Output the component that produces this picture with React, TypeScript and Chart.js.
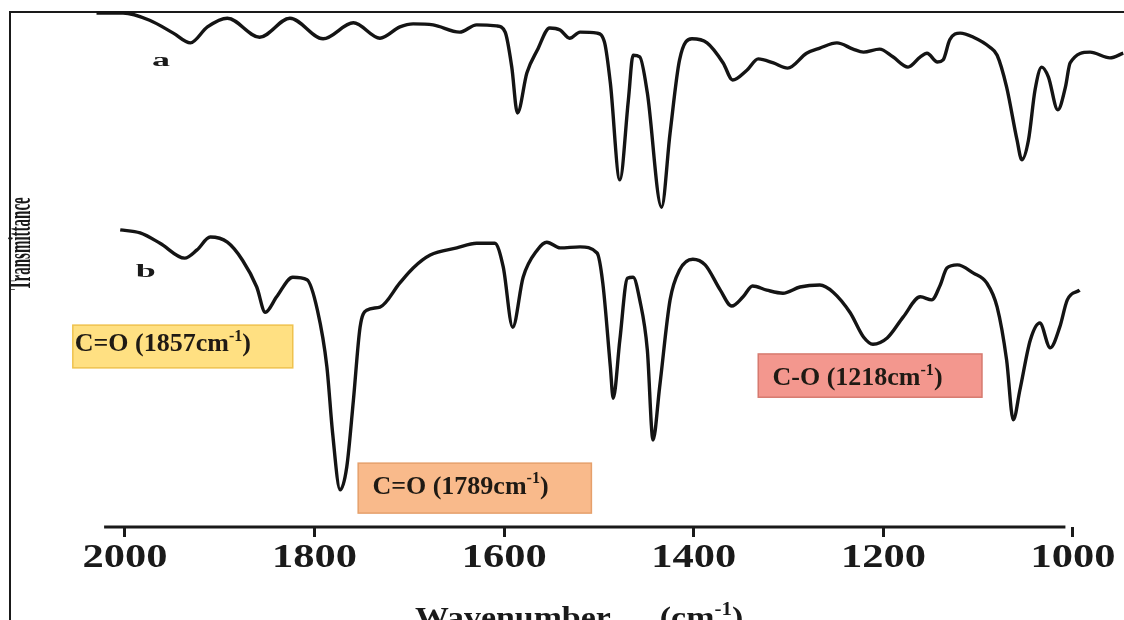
import { useEffect, useRef } from "react";
import { Chart, registerables } from "chart.js";

Chart.register(...registerables);

const SERIF = '"Liberation Serif", "Times New Roman", "DejaVu Serif", serif';

// ---- spectrum a ----
const wavenumberA = [2030, 2002, 1974, 1949, 1931, 1913, 1892, 1858, 1826, 1791, 1759, 1731, 1710, 1696, 1675, 1647, 1629, 1608, 1599, 1592, 1586, 1576, 1565, 1552, 1541, 1531, 1520, 1502, 1494, 1488, 1478, 1469, 1464, 1457, 1449, 1434, 1425, 1415, 1402, 1386, 1369, 1359, 1344, 1332, 1316, 1301, 1281, 1267, 1249, 1232, 1221, 1204, 1190, 1174, 1161, 1154, 1143, 1137, 1130, 1119, 1105, 1088, 1080, 1070, 1059, 1054, 1047, 1040, 1033, 1026, 1016, 1008, 1003, 982, 961, 947];
const transmittanceA = [99.8, 99.8, 98.4, 95.9, 94.0, 97.1, 98.8, 95.1, 98.8, 94.8, 97.9, 94.9, 97.1, 97.7, 97.5, 96.1, 97.5, 97.3, 96.1, 89.3, 80.4, 88.2, 92.6, 96.9, 96.5, 94.9, 96.1, 95.9, 94.0, 86.2, 67.4, 82.9, 91.6, 91.3, 84.3, 62.1, 76.5, 90.7, 94.8, 94.0, 90.1, 86.8, 88.7, 90.9, 90.1, 89.1, 92.0, 93.0, 94.0, 92.8, 92.2, 92.8, 91.3, 89.3, 91.3, 92.0, 90.3, 90.7, 94.6, 95.9, 95.1, 93.2, 91.6, 85.4, 75.1, 71.3, 75.1, 84.9, 89.3, 87.4, 81.0, 85.4, 90.1, 92.2, 91.1, 92.0];

// ---- spectrum b ----
const wavenumberB = [2005, 1984, 1963, 1937, 1924, 1910, 1892, 1876, 1861, 1852, 1840, 1823, 1808, 1797, 1787, 1781, 1773, 1766, 1759, 1752, 1745, 1731, 1710, 1696, 1678, 1650, 1629, 1610, 1601, 1591, 1580, 1565, 1555, 1541, 1520, 1502, 1496, 1488, 1485, 1478, 1470, 1464, 1457, 1449, 1443, 1436, 1425, 1415, 1401, 1388, 1372, 1360, 1348, 1338, 1323, 1306, 1288, 1267, 1253, 1235, 1221, 1211, 1196, 1179, 1161, 1149, 1140, 1133, 1122, 1105, 1091, 1080, 1070, 1063, 1056, 1045, 1035, 1024, 1014, 1006, 993];
const transmittanceB = [57.7, 57.1, 55.1, 52.2, 53.8, 56.3, 55.3, 51.8, 46.6, 41.7, 44.7, 48.5, 48.0, 42.1, 31.1, 18.3, 7.2, 11.7, 24.7, 38.8, 42.1, 42.7, 47.4, 50.3, 52.8, 54.2, 55.1, 55.1, 50.5, 38.8, 48.5, 53.8, 55.3, 54.2, 54.4, 53.2, 47.4, 31.1, 25.0, 36.3, 48.3, 48.5, 44.1, 34.4, 16.9, 27.2, 44.1, 49.9, 52.0, 50.9, 46.0, 42.9, 44.7, 46.8, 46.0, 45.4, 46.6, 47.0, 45.6, 41.6, 36.9, 35.5, 36.7, 40.8, 44.7, 44.1, 47.0, 50.3, 50.9, 49.3, 47.4, 42.7, 32.4, 20.8, 26.6, 36.3, 39.6, 34.8, 38.8, 44.1, 46.0];

// ---- axis ----
const tickValues = [2000, 1800, 1600, 1400, 1200, 1000];
const tickLabels = ["2000", "1800", "1600", "1400", "1200", "1000"];
const xTitle = "Wavenumber";
const xUnit = "(cm";
const unitSup = "-1";
const yTitle = "Transmittance";

// ---- curve names ----
const seriesNames = ["a", "b"];
const seriesNameX = [1962, 1978];
const seriesNameY = [90.5, 49.5];

// ---- annotations ----
const annotationTexts = ["C=O (1857cm", "C=O (1789cm", "C-O (1218cm"];
const annotationFills = ["#FFE082", "#F9BA8B", "#F3978E"];
const annotationBorders = ["#EFC24E", "#E6A06B", "#D67A6F"];
// box extents (wavenumber / transmittance units)
const annotationX0 = [2055, 1754, 1332];
const annotationX1 = [1823, 1508, 1096];
const annotationYTop = [39.2, 12.4, 33.6];
const annotationYBottom = [30.9, 2.7, 25.2];
const annotationTextX = [2053, 1739, 1317];
const annotationTextY = [34.1, 6.5, 27.5];

type Seg = { t: string; sup?: boolean; gap?: number };

function fnt(size: number) {
  return `bold ${size}px ${SERIF}`;
}

function drawSegs(
  ctx: CanvasRenderingContext2D,
  segs: Seg[],
  x: number,
  baseline: number,
  size: number,
  sx: number,
  align: "left" | "center"
) {
  ctx.save();
  ctx.textBaseline = "alphabetic";
  ctx.textAlign = "left";
  let total = 0;
  for (const s of segs) {
    if (s.gap) {
      total += s.gap / sx;
      continue;
    }
    ctx.font = fnt(s.sup ? size * 0.62 : size);
    total += ctx.measureText(s.t).width;
  }
  ctx.translate(x, baseline);
  ctx.scale(sx, 1);
  let cx = align === "center" ? -total / 2 : 0;
  for (const s of segs) {
    if (s.gap) {
      cx += s.gap / sx;
      continue;
    }
    ctx.font = fnt(s.sup ? size * 0.62 : size);
    ctx.fillText(s.t, cx, s.sup ? -size * 0.4 : 0);
    cx += ctx.measureText(s.t).width;
  }
  ctx.restore();
}

const decorPlugin = {
  id: "decor",
  beforeDraw(chart: any) {
    const ctx: CanvasRenderingContext2D = chart.ctx;
    ctx.save();
    ctx.fillStyle = "#ffffff";
    ctx.fillRect(0, 0, chart.width, chart.height);
    // frame
    ctx.strokeStyle = "#1a1a1a";
    ctx.lineWidth = 2;
    ctx.beginPath();
    ctx.moveTo(10, chart.height);
    ctx.lineTo(10, 12);
    ctx.lineTo(chart.width, 12);
    ctx.stroke();
    ctx.restore();
  },
  afterDraw(chart: any) {
    const ctx: CanvasRenderingContext2D = chart.ctx;
    const xs = chart.scales.x;
    const ys = chart.scales.y;
    ctx.save();
    ctx.fillStyle = "#1a1a1a";

    // axis line
    ctx.strokeStyle = "#1a1a1a";
    ctx.lineWidth = 3;
    ctx.beginPath();
    ctx.moveTo(xs.getPixelForValue(2022), xs.top);
    ctx.lineTo(xs.getPixelForValue(1008), xs.top);
    ctx.stroke();

    // tick labels
    for (const t of xs.ticks) {
      const i = tickValues.indexOf(t.value);
      if (i < 0) continue;
      drawSegs(ctx, [{ t: tickLabels[i] }], xs.getPixelForValue(t.value), xs.top + 39.5, 34, 1.25, "center");
    }

    // x title
    drawSegs(
      ctx,
      [{ t: xTitle }, { t: "", gap: 49 }, { t: xUnit }, { t: unitSup, sup: true }, { t: ")" }],
      xs.getPixelForValue(1521),
      xs.top + 100,
      30,
      1.13,
      "center"
    );

    // y title (rotated, condensed)
    ctx.save();
    ctx.translate(22, ys.getPixelForValue(55));
    ctx.scale(2.1, 1);
    ctx.rotate(-Math.PI / 2);
    ctx.font = fnt(15);
    ctx.textAlign = "center";
    ctx.textBaseline = "middle";
    ctx.fillText(yTitle, 0, 0);
    ctx.restore();

    // series names
    for (let i = 0; i < seriesNames.length; i++) {
      drawSegs(
        ctx,
        [{ t: seriesNames[i] }],
        xs.getPixelForValue(seriesNameX[i]),
        ys.getPixelForValue(seriesNameY[i]) + 5,
        18,
        2.0,
        "center"
      );
    }

    // annotation boxes
    for (let i = 0; i < annotationTexts.length; i++) {
      const x0 = xs.getPixelForValue(annotationX0[i]);
      const x1 = xs.getPixelForValue(annotationX1[i]);
      const y0 = ys.getPixelForValue(annotationYTop[i]);
      const y1 = ys.getPixelForValue(annotationYBottom[i]);
      ctx.fillStyle = annotationFills[i];
      ctx.fillRect(x0, y0, x1 - x0, y1 - y0);
      ctx.strokeStyle = annotationBorders[i];
      ctx.lineWidth = 1.5;
      ctx.strokeRect(x0, y0, x1 - x0, y1 - y0);
      ctx.fillStyle = "#1f1a14";
      drawSegs(
        ctx,
        [{ t: annotationTexts[i] }, { t: unitSup, sup: true }, { t: ")" }],
        xs.getPixelForValue(annotationTextX[i]),
        ys.getPixelForValue(annotationTextY[i]),
        26,
        1,
        "left"
      );
    }
    ctx.restore();
  },
};

export default function App() {
  const ref = useRef<HTMLCanvasElement | null>(null);

  useEffect(() => {
    if (!ref.current) return;
    const chart = new Chart(ref.current, {
      type: "line",
      data: {
        datasets: [
          {
            label: seriesNames[0],
            data: wavenumberA.map((w, i) => ({ x: w, y: transmittanceA[i] })),
            borderColor: "#141414",
            borderWidth: 3.4,
            pointRadius: 0,
            cubicInterpolationMode: "monotone",
            fill: false,
            clip: false as any,
          },
          {
            label: seriesNames[1],
            data: wavenumberB.map((w, i) => ({ x: w, y: transmittanceB[i] })),
            borderColor: "#141414",
            borderWidth: 3.4,
            pointRadius: 0,
            cubicInterpolationMode: "monotone",
            fill: false,
            clip: false as any,
          },
        ],
      },
      options: {
        responsive: false,
        animation: false,
        devicePixelRatio: 1,
        layout: { padding: { left: 95, right: 0, top: 12, bottom: 0 } },
        plugins: {
          legend: { display: false },
          tooltip: { enabled: false },
        },
        scales: {
          x: {
            type: "linear",
            reverse: true,
            min: 946.2,
            max: 2031.6,
            afterBuildTicks: (scale: any) => {
              scale.ticks = tickValues.map((v) => ({ value: v }));
            },
            afterFit: (scale: any) => {
              scale.height = 123;
            },
            ticks: { display: false },
            border: { display: false },
            grid: {
              drawOnChartArea: false,
              drawTicks: true,
              tickLength: 10,
              tickWidth: 3,
              tickColor: "#1a1a1a",
            },
          },
          y: {
            type: "linear",
            display: false,
            min: 0,
            max: 100,
          },
        },
      },
      plugins: [decorPlugin],
    });
    return () => chart.destroy();
  }, []);

  return (
    <div style={{ position: "fixed", left: 0, top: 0, width: 1124, height: 650, background: "#fff" }}>
      <canvas ref={ref} width={1124} height={650} style={{ width: 1124, height: 650, display: "block" }} />
    </div>
  );
}
